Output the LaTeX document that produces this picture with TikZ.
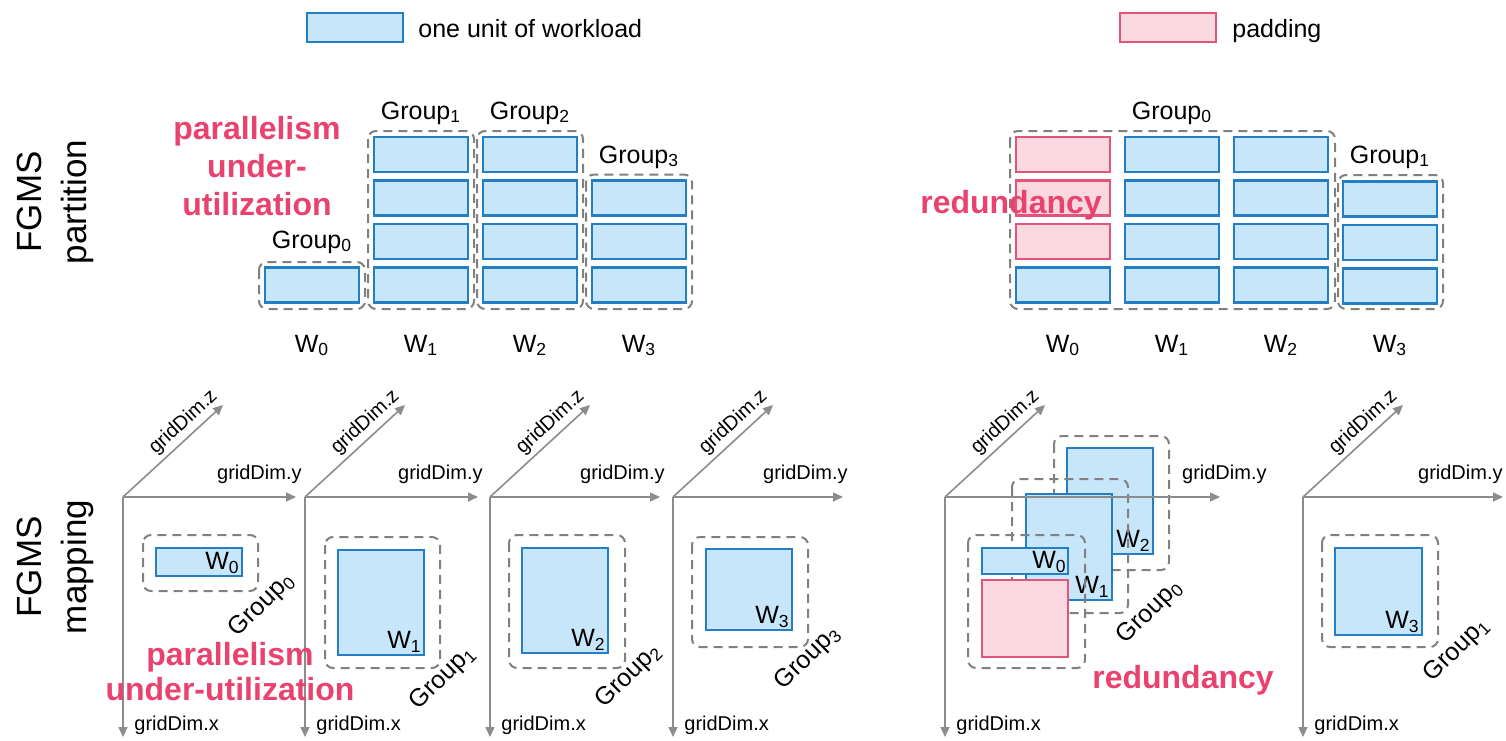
\documentclass[tikz,border=0pt]{standalone}
\usepackage{fontspec}
\setmainfont{Liberation Sans}
\usetikzlibrary{arrows.meta}
\definecolor{unitfill}{RGB}{199,230,250}
\definecolor{unitline}{RGB}{36,126,196}
\definecolor{padfill}{RGB}{250,216,224}
\definecolor{padline}{RGB}{226,84,122}
\definecolor{warnred}{RGB}{233,66,110}
\definecolor{grpgray}{RGB}{128,128,128}
\definecolor{axisgray}{RGB}{140,140,140}
\tikzset{unit/.style={draw=unitline, fill=unitfill, line width=1.3pt},
 pad/.style={draw=padline, fill=padfill, line width=1.3pt},
 mapblk/.style={unit, line width=1pt, inner sep=0pt},
 grp/.style={draw=grpgray, line width=1pt, dash pattern=on 4.5pt off 3pt, rounded corners=4pt},
 axis/.style={draw=axisgray, line width=0.8pt, -{Triangle[length=5pt,width=4.5pt]}},
 txt/.style={font=\fontsize{12.5}{15}\selectfont, inner sep=0pt},
 wtag/.style={txt, anchor=south east, inner sep=1.5pt},
 dimlbl/.style={font=\fontsize{10}{12}\selectfont, inner sep=0pt},
 warn/.style={font=\fontsize{16}{19}\selectfont\bfseries, text=warnred, inner sep=0pt, align=center},
 side/.style={font=\fontsize{17.5}{22.5}\selectfont, rotate=90, align=center, inner sep=0pt},
 }
\newcommand{\grpname}[1]{Group\textsubscript{#1}}
\newcommand{\wname}[1]{W\textsubscript{#1}}

\begin{document}
\begin{tikzpicture}[x=0.5pt, y=-0.5pt]
\useasboundingbox (0,0) rectangle (1506,740);

% legend
\draw[unit] (307,13) rectangle (403,42);
\node[txt, anchor=base west] (lgunit) at (418,37) {one unit of workload};
\draw[pad] (1120,13) rectangle (1216,42);
\node[txt, anchor=base west] (lgpad) at (1232,37) {padding};

% partition, left half
\node[side] (sidepart) at (55,202) {FGMS\\partition};
\draw[grp] (259,262) rectangle (365,309);
\draw[unit] (265,267.5) rectangle (359,302.5);
\foreach \cx in {374,483} {
  \draw[grp] (\cx-6,131) rectangle (\cx+100,309);
  \foreach \ry in {137,180.5,224,267.5}
    \draw[unit] (\cx,\ry) rectangle (\cx+94,\ry+35);
}
\draw[grp] (586,174.5) rectangle (692,309);
\foreach \ry in {180.5,224,267.5}
  \draw[unit] (592,\ry) rectangle (686,\ry+35);
\node[txt, anchor=base] (pg0) at (312,248) {\grpname{0}};
\node[txt, anchor=base] (pg1) at (421,119) {\grpname{1}};
\node[txt, anchor=base] (pg2) at (530,119) {\grpname{2}};
\node[txt, anchor=base] (pg3) at (639,163) {\grpname{3}};
\foreach \cx [count=\i from 0] in {312,421,530,639}
  \node[txt, anchor=base] (pw\i) at (\cx,352) {\wname{\i}};
\node[warn, anchor=north] (pwarn) at (257,116) {parallelism\\under-\\utilization};

% partition, right half
\draw[grp] (1010,131) rectangle (1335,309);
\foreach \ry in {137,180.5,224}
  \draw[pad] (1016,\ry) rectangle (1110,\ry+35);
\draw[unit] (1016,267.5) rectangle (1110,302.5);
\foreach \cx in {1125,1234}
  \foreach \ry in {137,180.5,224,267.5}
    \draw[unit] (\cx,\ry) rectangle (\cx+94,\ry+35);
\draw[grp] (1338,175) rectangle (1443,309);
\foreach \ry in {181.5,225,268.5}
  \draw[unit] (1343,\ry) rectangle (1437,\ry+35);
\node[txt, anchor=base] (qg0) at (1172,119) {\grpname{0}};
\node[txt, anchor=base] (qg1) at (1390,163) {\grpname{1}};
\foreach \cx [count=\i from 0] in {1063,1172,1281,1390}
  \node[txt, anchor=base] (qw\i) at (\cx,352) {\wname{\i}};
\node[warn, anchor=base] (qwarn) at (1011,213) {redundancy};

% mapping
\node[side] (sidemap) at (55,567) {FGMS\\mapping};

\draw[grp] (143,535) rectangle (258,591);
\node[mapblk, minimum width=43pt, minimum height=14pt] (m0) at (199,562) {};
\node[wtag] (mw0) at (m0.south east) {\wname{0}};
\node[txt, rotate=45] (mg0) at (262,605) {\grpname{0}};

\draw[grp] (325,537) rectangle (440,668);
\node[mapblk, minimum width=43pt, minimum height=52.5pt] (m1) at (381,602.5) {};
\node[wtag] (mw1) at (m1.south east) {\wname{1}};
\node[txt, rotate=45] (mg1) at (443,678) {\grpname{1}};

\draw[grp] (509,535) rectangle (625,668);
\node[mapblk, minimum width=43pt, minimum height=52.5pt] (m2) at (565,600.5) {};
\node[wtag] (mw2) at (m2.south east) {\wname{2}};
\node[txt, rotate=45] (mg2) at (629,676) {\grpname{2}};

\draw[grp] (692,537) rectangle (808,647);
\node[mapblk, minimum width=43pt, minimum height=40.5pt] (m3) at (749,589.5) {};
\node[wtag] (mw3) at (m3.south east) {\wname{3}};
\node[txt, rotate=45] (mg3) at (808,658) {\grpname{3}};

% stacked along gridDim.z
\node[mapblk, minimum width=43pt, minimum height=53pt] (n2) at (1110,501) {};
\node[wtag] (nw2) at (n2.south east) {\wname{2}};
\draw[grp] (1054,436) rectangle (1169,570);
\node[mapblk, minimum width=43pt, minimum height=53pt] (n1) at (1069,547) {};
\node[wtag] (nw1) at (n1.south east) {\wname{1}};
\draw[grp] (1012,479) rectangle (1128,613);
\node[mapblk, minimum width=43pt, minimum height=13pt] (n0) at (1025,561) {};
\node[wtag, inner sep=1pt] (nw0) at (n0.south east) {\wname{0}};
\node[pad, line width=1pt, minimum width=43pt, minimum height=38.5pt, inner sep=0pt] (npad) at (1025,618.5) {};
\draw[grp] (968,535) rectangle (1085,668);
\node[txt, rotate=45] (ng0) at (1150,612) {\grpname{0}};

\draw[grp] (1322,535) rectangle (1438,647);
\node[mapblk, minimum width=43.5pt, minimum height=43.5pt] (k3) at (1378.5,591.5) {};
\node[wtag] (kw3) at (k3.south east) {\wname{3}};
\node[txt, rotate=45] (kg1) at (1457,650) {\grpname{1}};

% axes
\foreach \ox/\yt/\yl [count=\i] in {123/296/302, 305/478/483, 490/660/665, 673/843/848, 945/1220/1267, 1303/1503/1503} {
  \coordinate (o\i) at (\ox,497);
  \coordinate (z\i) at (\ox+100,405);
  \coordinate (y\i) at (\yt,497);
  \coordinate (x\i) at (\ox,737);
  \draw[axis] (o\i) -- node[dimlbl, sloped, above, inner sep=2pt, pos=0.7] (zl\i) {gridDim.z} (z\i);
  \draw[axis] (o\i) -- (y\i);
  \draw[axis] (o\i) -- (x\i);
  \node[dimlbl, anchor=base east] (yl\i) at (\yl,479) {gridDim.y};
  \node[dimlbl, anchor=base west] (xl\i) at (\ox+11,730) {gridDim.x};
}

\node[warn, anchor=north, font=\fontsize{16}{17.5}\selectfont\bfseries] (mwarn) at (230,642) {parallelism\\under-utilization};
\node[warn, anchor=base] (nwarn) at (1183,688) {redundancy};
\end{tikzpicture}
\end{document}
